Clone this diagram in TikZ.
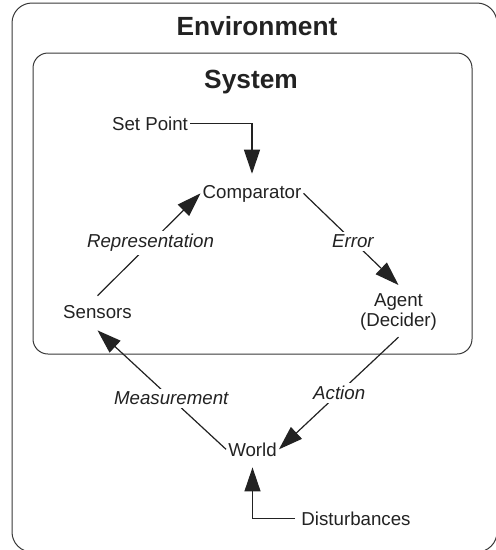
\documentclass[tikz,border=0pt]{standalone}
\usepackage{fontspec}
\setmainfont{Liberation Sans}
\usetikzlibrary{arrows.meta}
\definecolor{ink}{HTML}{222222}
\tikzset{
  txt/.style={inner sep=2pt, text=ink, font=\fontsize{18.7}{21}\selectfont},
  title/.style={inner sep=2pt, text=ink, font=\fontsize{26.3}{30}\selectfont\bfseries},
  lab/.style={txt, font=\fontsize{18.7}{21}\selectfont\itshape, fill=white, inner sep=3pt},
  arr/.style={draw=ink, line width=1.2pt, -{Triangle[length=24pt,width=16pt]}},
  plain/.style={draw=ink, line width=1.2pt},
  frame/.style={draw=ink!90, line width=1pt}
}
\begin{document}
\begin{tikzpicture}[x=1pt,y=-1pt]
\useasboundingbox (0,0) rectangle (496,550);
\draw[frame, rounded corners=20pt] (12,3) rectangle (497,552);
\draw[frame, rounded corners=15pt] (33,53) rectangle (472,354);
\node[title, anchor=base] (env) at (257,35) {Environment};
\node[title, anchor=base] (sys) at (251,88) {System};
\node[txt, anchor=base] (setpt) at (150,130) {Set Point};
\node[txt, anchor=base] (comp) at (252,198) {Comparator};
\node[txt, anchor=base] (sens) at (97.5,318) {Sensors};
\node[txt, align=center, anchor=north] (agent) at (398.5,291) {Agent\\[-1pt](Decider)};
\node[txt, anchor=base] (world) at (252.5,456) {World};
\node[txt, anchor=base] (dist) at (356,525) {Disturbances};
\draw[arr] (setpt.east) -| ([yshift=9pt]comp.north);
\draw[arr] ([yshift=7pt]sens.north) -- node[lab, pos=0.515] (rep) {Representation} (comp.west);
\draw[arr] (comp.east) -- node[lab, pos=0.52] (err) {Error} ([yshift=6pt]agent.north);
\draw[arr] ([yshift=-5pt]agent.south) -- node[lab, pos=0.496] (act) {Action} (world.east);
\draw[arr] (world.west) -- node[lab, pos=0.426] (meas) {Measurement} ([yshift=-10pt]sens.south);
\draw[arr] ([xshift=-4pt]dist.west) -| ([yshift=-9pt]world.south);
\end{tikzpicture}
\end{document}
